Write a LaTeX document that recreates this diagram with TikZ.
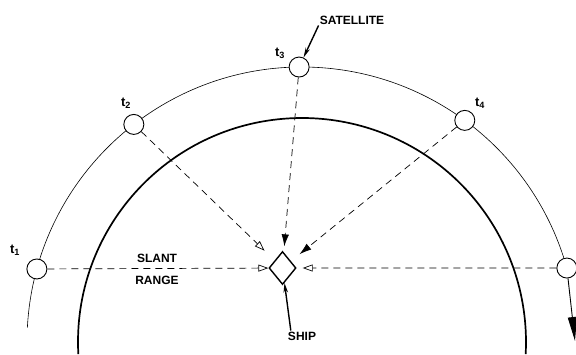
\documentclass[tikz,border=0pt]{standalone}
\usepackage{fontspec}
\setmainfont{Liberation Sans}
\usetikzlibrary{arrows.meta,shapes.geometric}

\begin{document}
\begin{tikzpicture}[x=1pt, y=1pt,
  orbitline/.style={line width=0.6pt},
  earthline/.style={line width=1.7pt},
  satbox/.style={draw, circle, fill=white, line width=0.9pt,
    minimum size=20pt, inner sep=0pt},
  shipbox/.style={draw, diamond, line width=1.4pt, minimum width=27pt,
    minimum height=33pt, inner sep=0pt},
  ray/.style={line width=0.7pt, dash pattern=on 7pt off 5pt},
  hollowray/.style={ray, -{Triangle[open, length=10pt, width=7pt]}},
  fillray/.style={ray, -{Latex[length=12pt, width=7.5pt]}},
  leader/.style={line width=1.4pt, -{Stealth[length=10pt, width=4.5pt]}},
  velocity/.style={line width=0.9pt, -{Triangle[length=24pt, width=9pt]}},
  lbl/.style={font=\fontsize{12}{22}\selectfont\bfseries, inner sep=1pt},
  tlbl/.style={font=\fontsize{13}{14}\selectfont\bfseries, inner sep=1pt}
]
\useasboundingbox (0,0) rectangle (576,354);
\coordinate (ctr) at (302,12);

% orbit and earth
\draw[orbitline] ([shift={(177:275pt)}]ctr) arc[start angle=177, end angle=15.6, radius=275pt];
\draw[earthline] ([shift={(183.1:224pt)}]ctr) arc[start angle=183.1, end angle=-3.1, radius=224pt];

% ship and satellite positions
\node[shipbox] (ship) at (282.5,86) {};
\node[satbox] (t1) at ([shift={(164.6:275pt)}]ctr) {};
\node[satbox] (t2) at ([shift={(127.7:275pt)}]ctr) {};
\node[satbox] (t3) at ([shift={(90.6:275pt)}]ctr) {};
\node[satbox] (t4) at ([shift={(53.7:275pt)}]ctr) {};
\node[satbox] (t5) at ([shift={(15.6:275pt)}]ctr) {};

% slant ranges
\draw[hollowray] (t1) -- (ship);
\draw[hollowray, shorten >=14pt] (t2) -- (ship);
\draw[fillray, shorten >=6pt] (t3) -- (ship);
\draw[fillray, shorten >=11pt] (t4) -- (ship);
\draw[hollowray, shorten >=6pt] (t5) -- (ship);

% satellite motion
\coordinate (vtip) at (575,13);
\draw[velocity] (t5) -- (vtip);

% labels
\node[tlbl] (lt1) at (15,104) {t\textsubscript{1}};
\node[tlbl] (lt2) at (126,251) {t\textsubscript{2}};
\node[tlbl] (lt3) at (280,301) {t\textsubscript{3}};
\node[tlbl] (lt4) at (480,251) {t\textsubscript{4}};
\node[lbl, align=center] (rangelbl) at (157,85) {SLANT\\RANGE};
\node[lbl] (satlbl) at (352,334) {SATELLITE};
\draw[leader] (satlbl.south west) -- (t3);
\node[lbl] (shiplbl) at (302,18) {SHIP};
\draw[leader] ([xshift=4pt]shiplbl.north west) -- (ship);
\end{tikzpicture}
\end{document}
